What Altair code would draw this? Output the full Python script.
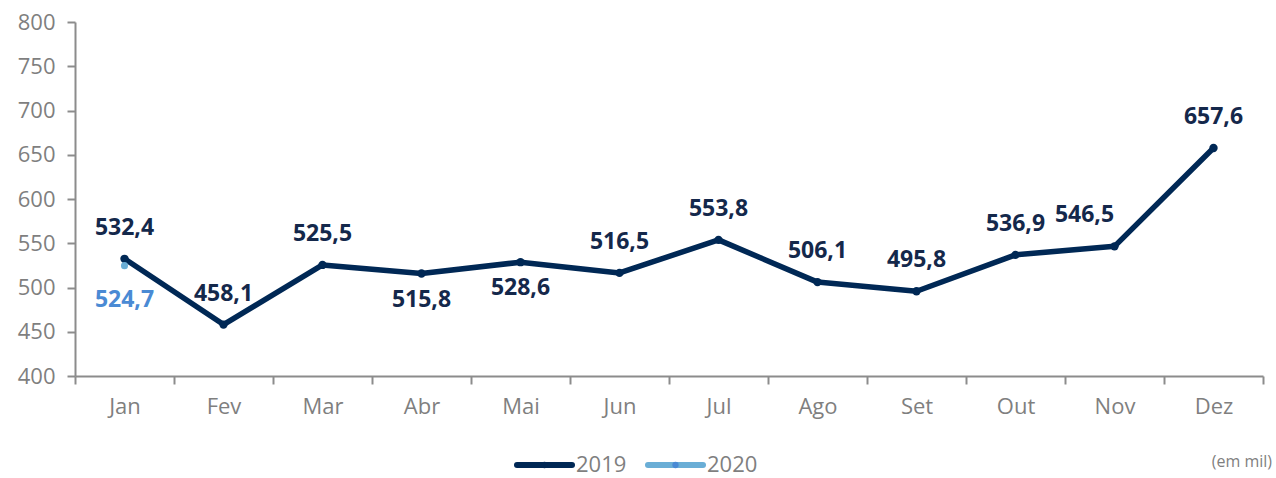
import altair as alt
import pandas as pd

months = ["Jan", "Fev", "Mar", "Abr", "Mai", "Jun", "Jul", "Ago", "Set", "Out", "Nov", "Dez"]
values_2019 = [532.4, 458.1, 525.5, 515.8, 528.6, 516.5, 553.8, 506.1, 495.8, 536.9, 546.5, 657.6]
months_2020 = ["Jan"]
values_2020 = [524.7]
series = ["2019", "2020"]
colors = ["#002855", "#6AAED6"]
point_colors = ["#002855", "#4A8AD4"]

below_2019 = ["Abr", "Mai"]
left_2019 = ["Nov"]


def fmt(v):
    return f"{v:.1f}".replace(".", ",")


df19 = pd.DataFrame({"month": months, "value": values_2019, "serie": "2019",
                     "label": [fmt(v) for v in values_2019]})
df20 = pd.DataFrame({"month": months_2020, "value": values_2020, "serie": "2020",
                     "label": [fmt(v) for v in values_2020]})
df_all = pd.concat([df19, df20], ignore_index=True)

FONT = "Open Sans"
GRAY = "#7F7F7F"
AXIS_GRAY = "#8C8C8C"

x = alt.X("month:N", sort=months, bandPosition=0.5,
          scale=alt.Scale(type="band", domain=months, paddingInner=0, paddingOuter=0),
          axis=alt.Axis(title=None, labelAngle=0, tickBand="extent", tickSize=8,
                        labelPadding=12, labelFontSize=22))
y = alt.Y("value:Q", scale=alt.Scale(domain=[400, 800], nice=False, zero=False),
          axis=alt.Axis(title=None, values=list(range(400, 801, 50)), tickSize=8,
                        labelPadding=12, labelFontSize=22, grid=False))

line = alt.Chart(df_all).mark_line(strokeWidth=5.5, strokeJoin="round").encode(
    x=x, y=y,
    color=alt.Color("serie:N", scale=alt.Scale(domain=series, range=colors), legend=None)
)

pts19 = alt.Chart(df19).mark_point(filled=True, size=70, opacity=1, color=colors[0]).encode(x=x, y=y)
pts20 = alt.Chart(df20).mark_point(filled=True, size=50, opacity=1, color=colors[1]).encode(x=x, y=y)

text_base = dict(font=FONT, fontSize=23, fontWeight="bold", baseline="middle", align="center")

lab_above = alt.Chart(df19).transform_filter(
    ~alt.FieldOneOfPredicate(field="month", oneOf=below_2019 + left_2019)
).mark_text(dy=-31, color="#14284B", **text_base).encode(x=x, y=y, text="label:N")

lab_below = alt.Chart(df19).transform_filter(
    alt.FieldOneOfPredicate(field="month", oneOf=below_2019)
).mark_text(dy=26, color="#14284B", **text_base).encode(x=x, y=y, text="label:N")

lab_left = alt.Chart(df19).transform_filter(
    alt.FieldOneOfPredicate(field="month", oneOf=left_2019)
).mark_text(dy=-31, dx=-30, color="#14284B", **text_base).encode(x=x, y=y, text="label:N")

lab20 = alt.Chart(df20).mark_text(dy=34, color="#4A8AD4", **text_base).encode(x=x, y=y, text="label:N")

# manual legend (below the plot)
LEG_Y = 443
leg_layers = []
for i, (s, c, pc) in enumerate(zip(series, colors, point_colors)):
    x0 = 442 + i * 131
    leg_layers.append(
        alt.Chart(pd.DataFrame({"s": [s]})).mark_rule(strokeWidth=6, strokeCap="round", color=c)
        .encode(x=alt.value(x0), x2=alt.value(x0 + 55), y=alt.value(LEG_Y))
    )
    leg_layers.append(
        alt.Chart(pd.DataFrame({"s": [s]})).mark_point(filled=True, size=40, opacity=1, color=pc)
        .encode(x=alt.value(x0 + 27.5), y=alt.value(LEG_Y))
    )
    leg_layers.append(
        alt.Chart(pd.DataFrame({"s": [s]})).mark_text(font=FONT, fontSize=22, color=GRAY,
                                                      align="left", baseline="middle")
        .encode(x=alt.value(x0 + 59), y=alt.value(LEG_Y), text="s:N")
    )

note = alt.Chart(pd.DataFrame({"t": ["(em mil)"]})).mark_text(
    font=FONT, fontSize=16, color=GRAY, align="right", baseline="middle"
).encode(x=alt.value(1197), y=alt.value(440), text="t:N")

chart = alt.layer(line, pts19, pts20, lab_above, lab_below, lab_left, lab20, note, *leg_layers).properties(
    width=1188, height=354,
    autosize=alt.AutoSizeParams(type="none"),
    padding={"left": 75, "top": 22, "right": 13, "bottom": 102},
).configure_view(stroke=None).configure_axis(
    domainColor=AXIS_GRAY, domainWidth=2, tickColor=AXIS_GRAY, tickWidth=2,
    labelColor=GRAY, labelFont=FONT
)

chart.save("out.html", embed_options={"renderer": "svg", "actions": False})
